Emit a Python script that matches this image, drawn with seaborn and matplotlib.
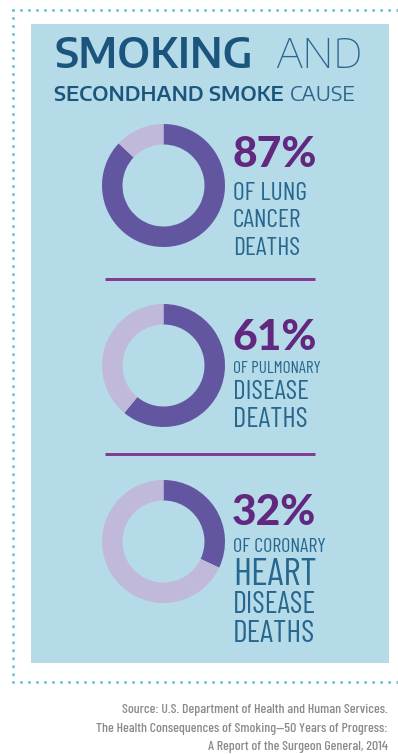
import matplotlib
matplotlib.use("Agg")
import matplotlib.pyplot as plt
from matplotlib.patches import Rectangle
import seaborn as sns

# ---- data -------------------------------------------------------------
percentages = [87, 61, 32]
causes = [
    ["OF LUNG", "CANCER", "DEATHS"],
    ["OF PULMONARY", "DISEASE", "DEATHS"],
    ["OF CORONARY", "HEART", "DISEASE", "DEATHS"],
]
title_bold = ["SMOKING", "SECONDHAND SMOKE"]
title_light = ["AND", "CAUSE"]
source_lines = [
    "Source: U.S. Department of Health and Human Services.",
    "The Health Consequences of Smoking\u201450 Years of Progress:",
    "A Report of the Surgeon General, 2014",
]

# ---- style ------------------------------------------------------------
sns.set_theme(style="white")
W, H, DPI = 398, 754, 100
palette = {
    "panel": "#b5dbe8",
    "dots": "#7cc6d8",
    "share": "#6356a0",
    "rest": "#c0b9da",
    "pct": "#62287f",
    "rule": "#833e94",
    "title": "#1b557d",
    "title_light": "#2c6690",
    "label": "#27668f",
    "source": "#8a8a8a",
}
HEAD = ["Encode Sans Semi Expanded", "Barlow", "DejaVu Sans"]
DIN_COND = ["Barlow Condensed", "Roboto Condensed", "DejaVu Sans"]
ROUND = ["Lato", "DejaVu Sans"]


def pt(px):
    """pixel size -> points"""
    return px * 72.0 / DPI


def fit_width(txt, target_px):
    """scale a text's font size so it spans target_px horizontally"""
    fig.canvas.draw()
    w = txt.get_window_extent(fig.canvas.get_renderer()).width
    txt.set_fontsize(txt.get_fontsize() * target_px / w)
    return txt.get_fontsize()


fig = plt.figure(figsize=(W / DPI, H / DPI), dpi=DPI)
fig.patch.set_facecolor("white")

# canvas axes in pixel coordinates (origin top-left)
bg = fig.add_axes([0, 0, 1, 1])
bg.set_xlim(0, W)
bg.set_ylim(H, 0)
bg.axis("off")

# light-blue panel
bg.add_patch(Rectangle((31, 24), 358, 639, facecolor=palette["panel"], edgecolor="none", zorder=0))

# dotted frame: top, left and bottom sides
dot_style = dict(color=palette["dots"], lw=pt(3.2), linestyle=(0, (0.001, 8 / 3.2)),
                 dash_capstyle="round", solid_capstyle="round", zorder=1)
bg.plot([13, W + 5], [10, 10], **dot_style)
bg.plot([13, 13], [10, 682], **dot_style)
bg.plot([13, W + 5], [682, 682], **dot_style)

# title
line1 = bg.text(54, 68, title_bold[0], family=HEAD, weight="semibold", fontsize=pt(39),
                color=palette["title"], va="baseline", ha="left")
size1 = min(fit_width(line1, 199.0), pt(41))
line1.set_fontsize(size1)
bg.text(275, 68, title_light[0], family=HEAD, weight="light", fontsize=size1,
        color=palette["title_light"], va="baseline", ha="left")
line2 = bg.text(54, 101, title_bold[1], family=HEAD, weight="semibold", fontsize=pt(22),
                color=palette["title"], va="baseline", ha="left")
size2 = fit_width(line2, 229.0)
bg.text(290, 101, title_light[1], family=HEAD, weight="normal", fontsize=size2,
        color=palette["title_light"], va="baseline", ha="left")

# donut geometry and text layout for each block
centers_y = [185.5, 365.5, 541.5]
cx, r_out, r_in = 163.5, 61.5, 41.0
pct_baselines = [167, 350, 525]
label_baselines = [[200, 227, 255], [373, 399, 427], [552, 585, 613, 642]]
label_caps = [[18, 18, 18], [12, 19, 20], [14, 27, 21, 22]]
rules_y = [279, 454]

for i, (p, cy) in enumerate(zip(percentages, centers_y)):
    ax = fig.add_axes([(cx - r_out) / W, 1 - (cy + r_out) / H, 2 * r_out / W, 2 * r_out / H])
    ax.pie([p, 100 - p], colors=[palette["share"], palette["rest"]], startangle=90,
           counterclock=False, radius=1.0,
           wedgeprops=dict(width=1 - r_in / r_out, edgecolor="none", linewidth=0))
    ax.set_xlim(-1, 1)
    ax.set_ylim(-1, 1)
    ax.set_aspect("equal")
    ax.axis("off")

    bg.text(232, pct_baselines[i], f"{p}%", family=ROUND, weight="black", fontsize=pt(42.5),
            color=palette["pct"], va="baseline", ha="left")
    for line, yb, cap in zip(causes[i], label_baselines[i], label_caps[i]):
        bg.text(233, yb, line, family=DIN_COND, weight="normal", fontsize=pt(cap / 0.7),
                color=palette["label"], va="baseline", ha="left")

for y in rules_y:
    bg.plot([105, 315], [y, y], color=palette["rule"], lw=pt(3), solid_capstyle="butt", zorder=2)

# source note
for line, yb in zip(source_lines, [713, 732, 750]):
    bg.text(388, yb, line, family=DIN_COND, weight="medium", fontsize=pt(13.8),
            color=palette["source"], va="baseline", ha="right")

fig.savefig("out.png", dpi=DPI, facecolor="white")
